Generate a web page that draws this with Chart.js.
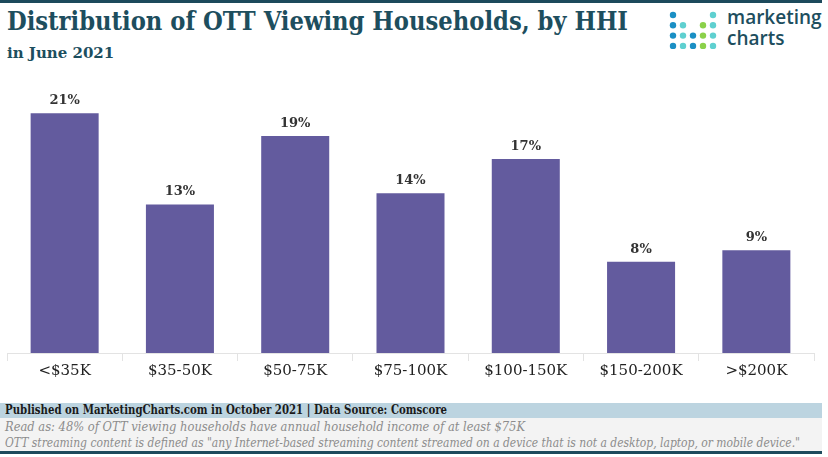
<!DOCTYPE html>
<html>
<head>
<meta charset="utf-8">
<script src="https://cdn.jsdelivr.net/npm/chart.js@4.4.0/dist/chart.umd.min.js"></script>
<style>
html,body{margin:0;padding:0;background:#fff}
#wrap{position:relative;width:828px;height:457px;overflow:hidden;font-family:"DejaVu Serif",serif}
#topline{position:absolute;left:0;top:0;width:822px;height:3px;background:#1d4a5c}
#title{position:absolute;left:7px;top:6px;font-family:"DejaVu Serif Condensed","DejaVu Serif",serif;font-size:26px;font-weight:bold;color:#1d4e5e;white-space:nowrap;transform-origin:0 0}
#sub{position:absolute;left:7px;top:44px;font-size:15px;font-weight:bold;color:#1d4e5e}
#logo{position:absolute;left:668px;top:10px}
#logotxt{position:absolute;left:727px;top:7px;font-family:"Open Sans",sans-serif;font-weight:600;font-size:19px;line-height:21px;color:#1d4e5e}
#cv{position:absolute;left:0;top:79px;width:828px;height:302px}
#band{position:absolute;left:0;top:403px;width:822px;height:15px;background:#bcd4e0}
#band span{position:absolute;left:5px;top:0;font-family:"DejaVu Serif Condensed","DejaVu Serif",serif;font-weight:bold;font-size:12px;line-height:15px;color:#1a1a1a;white-space:nowrap}
#notes{position:absolute;left:0;top:418px;width:822px;height:33px;background:#f3f3f3}
.n{position:absolute;left:5px;font-family:"DejaVu Serif Condensed","DejaVu Serif",serif;font-style:italic;font-size:12px;color:#8c8c8c;white-space:nowrap}
#botline{position:absolute;left:0;top:451px;width:822px;height:3px;background:#1d4a5c}
</style>
</head>
<body>
<div id="wrap">
  <div id="topline"></div>
  <div id="title">Distribution of OTT Viewing Households, by HHI</div>
  <div id="sub">in June 2021</div>
  <svg id="logo" width="52" height="42"></svg>
  <div id="logotxt">marketing<br>charts</div>
  <div id="cv"><canvas id="chart"></canvas></div>
  <div id="band"><span>Published on MarketingCharts.com in October 2021 | Data Source: Comscore</span></div>
  <div id="notes">
    <div class="n" style="top:2px">Read as: 48% of OTT viewing households have annual household income of at least $75K</div>
    <div class="n" style="top:18px">OTT streaming content is defined as "any Internet-based streaming content streamed on a device that is not a desktop, laptop, or mobile device."</div>
  </div>
  <div id="botline"></div>
</div>
<script>
// ── Data ──
const categories=['<$35K','$35-50K','$50-75K','$75-100K','$100-150K','$150-200K','>$200K'];
const shares=[21,13,19,14,17,8,9];

// ── Fit title / notes to the reference widths ──
function fitWidth(el,w){const r=el.getBoundingClientRect().width;if(r>0)el.style.transform=`scaleX(${w/r})`;el.style.transformOrigin='0 0'}
fitWidth(document.getElementById('title'),621);
fitWidth(document.querySelector('#band span'),442);
document.querySelectorAll('.n').forEach((n,i)=>fitWidth(n,i?795:520));

// ── Logo dots (decoration) ──
const logoDots=[
  [0,0,'#1a8fc4'],[4,0,'#5fd0d0'],
  [0,1,'#1a8fc4'],[1,1,'#5fd0d0'],[3,1,'#8bd14a'],[4,1,'#5fd0d0'],
  [0,2,'#1a8fc4'],[1,2,'#5fd0d0'],[2,2,'#1a8fc4'],[3,2,'#8bd14a'],[4,2,'#5fd0d0'],
  [0,3,'#1a8fc4'],[1,3,'#5fd0d0'],[2,3,'#1a8fc4'],[3,3,'#8bd14a'],[4,3,'#5fd0d0']
];
document.getElementById('logo').innerHTML=logoDots.map(d=>`<circle cx="${5+d[0]*10}" cy="${5+d[1]*10.3}" r="3.2" fill="${d[2]}"/>`).join('');

// ── Value labels above bars ──
const barLabels={
  id:'barLabels',
  afterDatasetsDraw(chart){
    const ctx=chart.ctx;
    const meta=chart.getDatasetMeta(0);
    ctx.save();
    ctx.font='bold 13px "DejaVu Serif", serif';
    ctx.fillStyle='#333';
    ctx.textAlign='center';
    ctx.textBaseline='bottom';
    meta.data.forEach((bar,i)=>{
      ctx.fillText(shares[i]+'%',bar.x,bar.y-6);
    });
    ctx.restore();
  }
};

new Chart(document.getElementById('chart'),{
  type:'bar',
  data:{labels:categories,datasets:[{data:shares,backgroundColor:'#635b9e',borderWidth:0,categoryPercentage:1,barPercentage:0.59}]},
  options:{
    responsive:true,maintainAspectRatio:false,animation:false,
    layout:{padding:{left:7,right:14,top:0,bottom:0}},
    plugins:{legend:{display:false},tooltip:{enabled:false}},
    scales:{
      x:{
        grid:{offset:true,drawOnChartArea:false,tickLength:8,color:'#e3e3e3'},
        border:{color:'#e3e3e3'},
        ticks:{color:'#222',font:{family:'"DejaVu Serif", serif',size:15},padding:1}
      },
      y:{display:false,min:0,max:24}
    }
  },
  plugins:[barLabels]
});
</script>
</body>
</html>
